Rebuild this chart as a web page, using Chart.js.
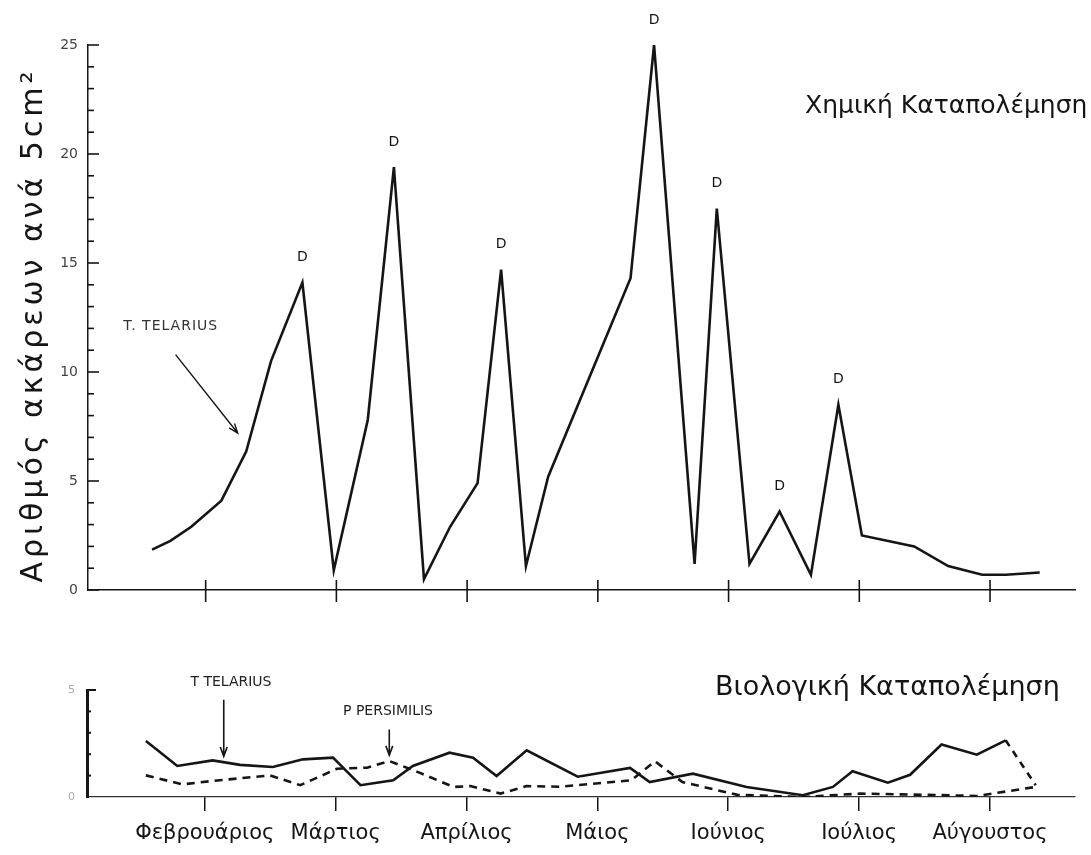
<!DOCTYPE html>
<html>
<head>
<meta charset="utf-8">
<script src="https://cdn.jsdelivr.net/npm/chart.js@4.4.0/dist/chart.umd.min.js"></script>
<style>
  body { margin: 0; background: #fff; }
  canvas { position: absolute; left: 0; }
  #topChart { top: 0; }
  #bioChart { top: 620px; }
</style>
</head>
<body>
<canvas id="topChart" width="1091" height="620"></canvas>
<canvas id="bioChart" width="1091" height="235"></canvas>
<script>
// months (x = 0 .. 6 on the axis)
const months = ["Φεβρουάριος", "Μάρτιος", "Απρίλιος", "Μάιος", "Ιούνιος", "Ιούλιος", "Αύγουστος"];

// chemical control - T. telarius
const chemX = [-0.41, -0.27, -0.11, 0.12, 0.31, 0.50, 0.74, 0.98, 1.24, 1.44, 1.67, 1.87, 2.08, 2.26, 2.45, 2.62,
  3.25, 3.43, 3.74, 3.91, 4.16, 4.39, 4.63, 4.84, 5.02, 5.42, 5.68, 5.94, 6.12, 6.38];
const chemY = [1.85, 2.25, 2.9, 4.1, 6.35, 10.5, 14.1, 0.9, 7.8, 19.4, 0.5, 2.9, 4.9, 14.7, 1.1, 5.2,
  14.3, 25, 1.2, 17.5, 1.2, 3.6, 0.7, 8.5, 2.5, 2.0, 1.1, 0.7, 0.7, 0.8];
// points marked "D" (spray dates)
const sprayIdx = [6, 9, 13, 17, 19, 21, 23];
const chemTicks = [0, 5, 10, 15, 20, 25];

// biological control
const telX = [-0.45, -0.37, -0.21, 0.06, 0.27, 0.52, 0.75, 0.98, 1.19, 1.44, 1.59, 1.87, 2.05, 2.23, 2.46, 2.85,
  3.25, 3.40, 3.73, 4.14, 4.57, 4.80, 4.95, 5.22, 5.39, 5.63, 5.90, 6.12, 6.35];
const telY = [2.62, 2.23, 1.45, 1.71, 1.5, 1.4, 1.76, 1.84, 0.55, 0.78, 1.45, 2.07, 1.84, 0.98, 2.18, 0.95,
  1.36, 0.70, 1.09, 0.47, 0.08, 0.47, 1.2, 0.67, 1.04, 2.45, 1.98, 2.65, 0.55];
const perX = [-0.45, -0.17, 0.06, 0.50, 0.73, 1.01, 1.24, 1.41, 1.64, 1.90, 2.03, 2.26, 2.46, 2.71,
  3.26, 3.44, 3.65, 4.07, 4.57, 5.01, 5.52, 5.90, 6.35];
const perY = [1.01, 0.59, 0.75, 1.01, 0.55, 1.32, 1.37, 1.68, 1.14, 0.47, 0.51, 0.16, 0.51, 0.48,
  0.78, 1.67, 0.70, 0.1, 0.0, 0.16, 0.1, 0.05, 0.47];
const bioTicks = [0, 5];

const xMin = -0.9, xMax = 6.65;
const ink = "#151515";
const hand = "'DejaVu Sans', sans-serif";

function arrow(ctx, x1, y1, x2, y2) {
  const a = Math.atan2(y2 - y1, x2 - x1);
  ctx.beginPath();
  ctx.moveTo(x1, y1);
  ctx.lineTo(x2, y2);
  ctx.moveTo(x2 - 10 * Math.cos(a - 0.35), y2 - 10 * Math.sin(a - 0.35));
  ctx.lineTo(x2, y2);
  ctx.lineTo(x2 - 10 * Math.cos(a + 0.35), y2 - 10 * Math.sin(a + 0.35));
  ctx.stroke();
}

function monthTicks(scale) {
  scale.ticks = months.map((m, i) => ({ value: i }));
}

// ticks, D marks, labels for the upper panel
const topDecor = {
  id: "topDecor",
  afterDraw(chart) {
    const { ctx, scales: { x, y } } = chart;
    ctx.save();
    ctx.strokeStyle = ink;
    ctx.lineWidth = 1.6;
    months.forEach((m, i) => {
      const px = x.getPixelForValue(i);
      ctx.beginPath();
      ctx.moveTo(px, y.bottom - 10);
      ctx.lineTo(px, y.bottom + 12);
      ctx.stroke();
    });
    for (let v = 0; v <= 25; v++) {
      const py = y.getPixelForValue(v);
      ctx.beginPath();
      ctx.moveTo(x.left, py);
      ctx.lineTo(x.left + (v % 5 === 0 ? 11 : 6), py);
      ctx.stroke();
    }
    ctx.fillStyle = ink;
    ctx.font = "14px 'DejaVu Sans'";
    ctx.textAlign = "center";
    ctx.textBaseline = "bottom";
    sprayIdx.forEach(i => {
      ctx.fillText("D", x.getPixelForValue(chemX[i]), y.getPixelForValue(chemY[i]) - 18);
    });

    ctx.fillStyle = "#333";
    ctx.font = "14px 'DejaVu Sans'";
    ctx.textAlign = "left";
    ctx.textBaseline = "middle";
    ctx.letterSpacing = "1px";
    ctx.fillText("T. TELARIUS", x.getPixelForValue(-0.63), y.getPixelForValue(12.1));
    ctx.letterSpacing = "0px";
    ctx.lineWidth = 1.4;
    arrow(ctx, x.getPixelForValue(-0.23), y.getPixelForValue(10.8), x.getPixelForValue(0.245), y.getPixelForValue(7.2));

    ctx.fillStyle = ink;
    ctx.font = "25px " + hand;
    ctx.textAlign = "left";
    ctx.fillText("Χημική Καταπολέμηση", 805, 106);

    ctx.save();
    ctx.translate(34, 325);
    ctx.rotate(-Math.PI / 2);
    ctx.textAlign = "center";
    ctx.font = "30px " + hand;
    ctx.letterSpacing = "4px";
    ctx.fillText("Αριθμός ακάρεων ανά 5cm²", 0, 0);
    ctx.restore();
    ctx.restore();
  }
};

const bioDecor = {
  id: "bioDecor",
  afterDraw(chart) {
    const { ctx, scales: { x, y } } = chart;
    ctx.save();
    ctx.strokeStyle = ink;
    ctx.lineWidth = 2;
    for (let v = 1; v <= 5; v++) {
      const py = y.getPixelForValue(v);
      ctx.beginPath();
      ctx.moveTo(x.left, py);
      ctx.lineTo(x.left + (v === 5 ? 9 : 4), py);
      ctx.stroke();
    }
    ctx.fillStyle = "#222";
    ctx.font = "14px 'DejaVu Sans'";
    ctx.textAlign = "center";
    ctx.textBaseline = "middle";
    ctx.fillText("T TELARIUS", x.getPixelForValue(0.2), y.getPixelForValue(5.35));
    ctx.fillText("P PERSIMILIS", x.getPixelForValue(1.4), y.getPixelForValue(4.0));
    ctx.lineWidth = 1.6;
    arrow(ctx, x.getPixelForValue(0.145), y.getPixelForValue(4.55), x.getPixelForValue(0.145), y.getPixelForValue(1.9));
    arrow(ctx, x.getPixelForValue(1.41), y.getPixelForValue(3.15), x.getPixelForValue(1.41), y.getPixelForValue(1.95));

    ctx.fillStyle = ink;
    ctx.font = "27px " + hand;
    ctx.textAlign = "left";
    ctx.fillText("Βιολογική Καταπολέμηση", 715, 68);
    ctx.restore();
  }
};

new Chart(document.getElementById("topChart"), {
  type: "line",
  data: {
    datasets: [{
      data: chemX.map((v, i) => ({ x: v, y: chemY[i] })),
      borderColor: ink,
      borderWidth: 2.6,
      pointRadius: 0,
      tension: 0
    }]
  },
  options: {
    responsive: false,
    animation: false,
    layout: { padding: { left: 48, top: 45, right: 16, bottom: 0 } },
    plugins: { legend: { display: false }, tooltip: { enabled: false } },
    scales: {
      x: {
        type: "linear", min: xMin, max: xMax,
        afterFit: s => { s.height = 30; },
        afterBuildTicks: monthTicks,
        ticks: { display: false },
        grid: { display: false },
        border: { color: ink, width: 1.5 }
      },
      y: {
        min: 0, max: 25,
        afterFit: s => { s.width = 40; },
        afterBuildTicks: s => { s.ticks = chemTicks.map(v => ({ value: v })); },
        ticks: { color: "#444", padding: 10, font: { family: "DejaVu Sans", size: 14 } },
        grid: { display: false, drawTicks: false },
        border: { color: ink, width: 1.5 }
      }
    }
  },
  plugins: [topDecor]
});

new Chart(document.getElementById("bioChart"), {
  type: "line",
  data: {
    datasets: [{
      label: "T. telarius",
      data: telX.map((v, i) => ({ x: v, y: telY[i] })),
      borderColor: ink,
      borderWidth: 2.6,
      pointRadius: 0,
      tension: 0,
      segment: { borderDash: c => c.p1DataIndex === telX.length - 1 ? [7, 6] : undefined }
    }, {
      label: "P. persimilis",
      data: perX.map((v, i) => ({ x: v, y: perY[i] })),
      borderColor: ink,
      borderWidth: 2.6,
      borderDash: [8, 6],
      pointRadius: 0,
      tension: 0
    }]
  },
  options: {
    responsive: false,
    animation: false,
    layout: { padding: { left: 47, top: 70, right: 16, bottom: 0 } },
    plugins: { legend: { display: false }, tooltip: { enabled: false } },
    scales: {
      x: {
        type: "linear", min: xMin, max: xMax,
        afterFit: s => { s.height = 58; },
        afterBuildTicks: monthTicks,
        ticks: {
          color: ink, padding: 10, maxRotation: 0, autoSkip: false,
          font: { family: "DejaVu Sans", size: 21 },
          callback: v => months[v]
        },
        grid: { drawOnChartArea: false, drawTicks: true, tickLength: 14, color: ink, lineWidth: 1.5 },
        border: { color: "#333", width: 1.3 }
      },
      y: {
        min: 0, max: 5,
        afterFit: s => { s.width = 40; },
        afterBuildTicks: s => { s.ticks = bioTicks.map(v => ({ value: v })); },
        ticks: { color: "#aaa", padding: 12, font: { family: "DejaVu Sans", size: 11 } },
        grid: { display: false, drawTicks: false },
        border: { color: ink, width: 3 }
      }
    }
  },
  plugins: [bioDecor]
});
</script>
</body>
</html>
